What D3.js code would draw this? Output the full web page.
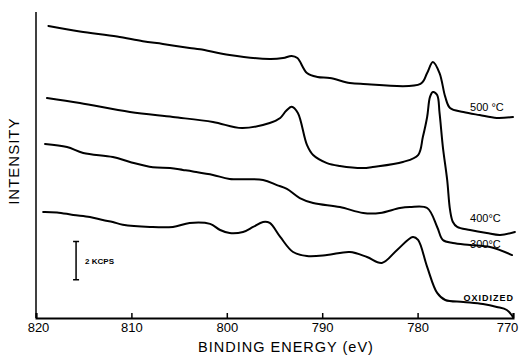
<!DOCTYPE html>
<html><head><meta charset="utf-8">
<script src="https://cdn.jsdelivr.net/npm/d3@7"></script>
<style>body{margin:0;background:#fff}svg{display:block}</style>
</head><body><div id="chart"></div>
<script>
// Binding energy (eV) and intensity (kcps, arbitrary offset) for each spectrum
const ev500 = [818.7,815.4,811.5,808.8,806.7,803.9,802.8,799.7,795.5,794.1,793.2,792.6,791.6,790.5,789.2,787.1,785.7,779.7,779.0,778.4,777.7,777.1,776.6,775.2,773.5,771.7,770.0];
const int500 = [15.27,14.98,14.72,14.47,14.33,14.12,14.05,13.75,13.54,13.59,13.70,13.59,12.81,12.60,12.55,12.29,12.24,12.24,12.81,13.39,12.81,11.56,10.98,10.77,10.61,10.46,10.51];

const ev400 = [818.85,815.4,810.15,805.65,801.45,798.4,795.5,794.4,793.8,793.2,792.55,791.6,790.95,789.5,788.15,785.7,784.7,781.55,779.95,779.45,779.0,778.7,778.4,777.95,777.7,777.35,776.9,776.6,776.3,775.85,774.5,772.75,771.35,769.8];
const int400 = [11.50,11.24,10.77,10.51,10.25,9.93,10.20,10.46,10.82,11.05,10.72,9.05,8.52,8.10,7.95,7.84,7.90,8.16,8.52,9.46,10.51,11.56,11.82,11.66,10.72,8.94,7.22,5.65,5.02,4.76,4.60,4.44,4.34,4.50];

const ev300 = [819.05,816.75,815.05,811.95,810.15,807.75,805.95,804.6,803.55,801.45,799.7,796.2,794.75,793.7,792.35,790.95,788.15,785.7,783.95,781.85,780.8,779.0,777.95,777.35,776.3,774.5,772.4,770.1];
const int300 = [9.10,8.94,8.63,8.42,8.16,7.88,7.84,7.74,7.66,7.48,7.27,7.22,6.95,6.75,6.27,6.01,5.80,5.49,5.49,5.75,5.80,5.75,4.76,4.08,3.92,3.82,3.71,3.29];

const evOx = [819.25,817.8,816.1,814.35,813.0,811.95,810.9,808.05,805.65,803.9,801.75,800.7,799.7,798.3,797.25,796.2,795.5,794.4,793.05,791.6,789.5,787.1,785.3,783.75,782.15,780.5,779.95,779.0,777.95,777.1,775.2,773.15,771.7,770.65,770.0];
const intOx = [5.54,5.52,5.39,5.28,5.12,5.02,4.88,4.76,4.76,4.97,4.92,4.60,4.44,4.50,4.76,5.02,4.97,4.24,3.45,3.24,3.29,3.45,3.19,2.88,3.56,4.24,4.08,2.67,1.31,0.94,0.84,0.73,0.58,0.42,0.05];

const seriesNames = ["500 °C", "400°C", "300°C", "OXIDIZED"];
const labelEv = [774.5, 774.5, 774.5, 775.2];
const labelInt = [10.8, 5.0, 3.65, 0.9];

const xTicks = [820, 810, 800, 790, 780, 770];
const xTitle = "BINDING ENERGY (eV)";
const yTitle = "INTENSITY";
const scaleBarLabel = "2 KCPS";
const scaleBarFrom = 2.0, scaleBarTo = 4.0;
const scaleBarEv = 815.8;

const W = 519, H = 355;
const FONT = "Liberation Sans, Arial, sans-serif";
const svg = d3.select("#chart").append("svg").attr("width", W).attr("height", H);
const x = d3.scaleLinear().domain([820, 770]).range([36, 513]);
const y = d3.scaleLinear().domain([0, 16]).range([318, 12]);

const series = [
  ev500.map((e,i)=>[e,int500[i]]),
  ev400.map((e,i)=>[e,int400[i]]),
  ev300.map((e,i)=>[e,int300[i]]),
  evOx.map((e,i)=>[e,intOx[i]])
];
const line = d3.line().x(d=>x(d[0])).y(d=>y(d[1])).curve(d3.curveCatmullRom.alpha(0.5));
svg.selectAll("path.s").data(series).enter().append("path")
  .attr("class","s").attr("d", line).attr("fill","none")
  .attr("stroke","#000").attr("stroke-width",2).attr("stroke-linejoin","round").attr("stroke-linecap","round");

// axes
const xAxis = d3.axisBottom(x).tickValues(xTicks).tickSize(-5).tickPadding(5).tickFormat(d3.format("d"));
const gx = svg.append("g").attr("transform",`translate(0,${y(0)})`).call(xAxis);
gx.select(".domain").attr("stroke","#000").attr("stroke-width",2);
gx.selectAll(".tick line").attr("stroke","#000").attr("stroke-width",1.5);
gx.selectAll(".tick text").attr("font-family",FONT).attr("font-size",13).attr("fill","#000")
  .attr("dx", d => d === 770 ? -6 : (d === 820 ? 2 : 0));

svg.append("line").attr("x1",x(820)).attr("x2",x(820)).attr("y1",y(16)).attr("y2",y(0))
  .attr("stroke","#000").attr("stroke-width",1.5);

svg.append("text").attr("x",286).attr("y",352).attr("text-anchor","middle")
  .attr("font-family",FONT).attr("font-size",14.5).attr("letter-spacing",1)
  .text(xTitle);
svg.append("text").attr("transform",`translate(19,${y(8.2)}) rotate(-90)`).attr("text-anchor","middle")
  .attr("font-family",FONT).attr("font-size",15).attr("letter-spacing",1)
  .text(yTitle);

// series labels
svg.selectAll("text.lbl").data(seriesNames).enter().append("text")
  .attr("class","lbl").attr("x",(d,i)=>x(labelEv[i])).attr("y",(d,i)=>y(labelInt[i]))
  .attr("font-family",FONT)
  .attr("font-size",(d,i)=>i===3?9:11).attr("font-weight",(d,i)=>i===3?"bold":"normal")
  .attr("letter-spacing",(d,i)=>i===3?1:0)
  .text(d=>d);

// scale bar
const sbx = x(scaleBarEv);
svg.append("line").attr("x1",sbx).attr("x2",sbx).attr("y1",y(scaleBarFrom)).attr("y2",y(scaleBarTo)).attr("stroke","#000").attr("stroke-width",1.5);
[scaleBarFrom, scaleBarTo].forEach(v=>svg.append("line").attr("x1",sbx-3).attr("x2",sbx+3).attr("y1",y(v)).attr("y2",y(v)).attr("stroke","#000").attr("stroke-width",1.5));
svg.append("text").attr("x",sbx+9).attr("y",y((scaleBarFrom+scaleBarTo)/2)+3)
  .attr("font-family",FONT).attr("font-size",8).attr("font-weight","bold")
  .text(scaleBarLabel);
</script></body></html>
